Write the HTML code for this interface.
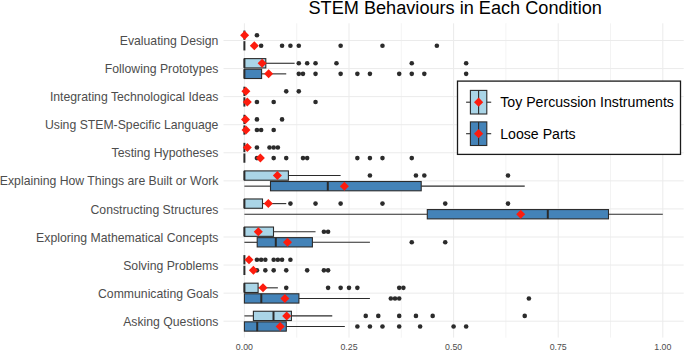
<!DOCTYPE html>
<html><head><meta charset="utf-8"><style>
html,body{margin:0;padding:0;background:#FFFFFF;}
body{width:685px;height:351px;overflow:hidden;}
svg{display:block;}
text{font-family:"Liberation Sans",sans-serif;}
.yl{font-size:12.25px;fill:#4D4D4D;}
.xl{font-size:8.8px;fill:#4D4D4D;}
.lt{font-size:14.15px;fill:#000000;}
.tt{font-size:18.15px;fill:#000000;}
</style></head><body>
<svg width="685" height="351" viewBox="0 0 685 351">
<rect width="685" height="351" fill="#FFFFFF"/>
<line x1="244.4" y1="23.3" x2="244.4" y2="337.6" stroke="#EBEBEB" stroke-width="1.0"/>
<line x1="296.7" y1="23.3" x2="296.7" y2="337.6" stroke="#EBEBEB" stroke-width="0.6"/>
<line x1="349" y1="23.3" x2="349" y2="337.6" stroke="#EBEBEB" stroke-width="1.0"/>
<line x1="401.3" y1="23.3" x2="401.3" y2="337.6" stroke="#EBEBEB" stroke-width="0.6"/>
<line x1="453.6" y1="23.3" x2="453.6" y2="337.6" stroke="#EBEBEB" stroke-width="1.0"/>
<line x1="505.9" y1="23.3" x2="505.9" y2="337.6" stroke="#EBEBEB" stroke-width="0.6"/>
<line x1="558.2" y1="23.3" x2="558.2" y2="337.6" stroke="#EBEBEB" stroke-width="1.0"/>
<line x1="610.5" y1="23.3" x2="610.5" y2="337.6" stroke="#EBEBEB" stroke-width="0.6"/>
<line x1="662.8" y1="23.3" x2="662.8" y2="337.6" stroke="#EBEBEB" stroke-width="1.0"/>
<line x1="223.5" y1="40.5" x2="683.7" y2="40.5" stroke="#EBEBEB" stroke-width="1"/>
<line x1="223.5" y1="68.57" x2="683.7" y2="68.57" stroke="#EBEBEB" stroke-width="1"/>
<line x1="223.5" y1="96.64" x2="683.7" y2="96.64" stroke="#EBEBEB" stroke-width="1"/>
<line x1="223.5" y1="124.71" x2="683.7" y2="124.71" stroke="#EBEBEB" stroke-width="1"/>
<line x1="223.5" y1="152.78" x2="683.7" y2="152.78" stroke="#EBEBEB" stroke-width="1"/>
<line x1="223.5" y1="180.85" x2="683.7" y2="180.85" stroke="#EBEBEB" stroke-width="1"/>
<line x1="223.5" y1="208.92" x2="683.7" y2="208.92" stroke="#EBEBEB" stroke-width="1"/>
<line x1="223.5" y1="236.99" x2="683.7" y2="236.99" stroke="#EBEBEB" stroke-width="1"/>
<line x1="223.5" y1="265.06" x2="683.7" y2="265.06" stroke="#EBEBEB" stroke-width="1"/>
<line x1="223.5" y1="293.13" x2="683.7" y2="293.13" stroke="#EBEBEB" stroke-width="1"/>
<line x1="223.5" y1="321.2" x2="683.7" y2="321.2" stroke="#EBEBEB" stroke-width="1"/>
<line x1="244.4" y1="30.55" x2="244.4" y2="39.85" stroke="#2B2B2B" stroke-width="2.0"/>
<circle cx="256.95" cy="35.2" r="2.3" fill="#2B2B2B"/>
<path d="M244.6 30.7L249.1 35.2L244.6 39.7L240.1 35.2Z" fill="#FD1C0E"/>
<line x1="244.4" y1="41.15" x2="244.4" y2="50.45" stroke="#2B2B2B" stroke-width="2.0"/>
<circle cx="261.14" cy="45.8" r="2.3" fill="#2B2B2B"/>
<circle cx="282.06" cy="45.8" r="2.3" fill="#2B2B2B"/>
<circle cx="290.42" cy="45.8" r="2.3" fill="#2B2B2B"/>
<circle cx="298.79" cy="45.8" r="2.3" fill="#2B2B2B"/>
<circle cx="340.63" cy="45.8" r="2.3" fill="#2B2B2B"/>
<circle cx="382.47" cy="45.8" r="2.3" fill="#2B2B2B"/>
<circle cx="436.86" cy="45.8" r="2.3" fill="#2B2B2B"/>
<path d="M254.3 41.3L258.8 45.8L254.3 50.3L249.8 45.8Z" fill="#FD1C0E"/>
<line x1="265.8" y1="63.27" x2="294.61" y2="63.27" stroke="#2B2B2B" stroke-width="1.1"/>
<rect x="244.4" y="58.62" width="21.4" height="9.3" fill="#AAD5E7" stroke="#2B2B2B" stroke-width="1.1"/>
<line x1="244.4" y1="58.62" x2="244.4" y2="67.92" stroke="#2B2B2B" stroke-width="2.0"/>
<circle cx="298.79" cy="63.27" r="2.3" fill="#2B2B2B"/>
<circle cx="307.16" cy="63.27" r="2.3" fill="#2B2B2B"/>
<circle cx="315.53" cy="63.27" r="2.3" fill="#2B2B2B"/>
<circle cx="336.45" cy="63.27" r="2.3" fill="#2B2B2B"/>
<circle cx="411.76" cy="63.27" r="2.3" fill="#2B2B2B"/>
<circle cx="466.15" cy="63.27" r="2.3" fill="#2B2B2B"/>
<path d="M262.1 58.77L266.6 63.27L262.1 67.77L257.6 63.27Z" fill="#FD1C0E"/>
<line x1="261.6" y1="73.87" x2="286.24" y2="73.87" stroke="#2B2B2B" stroke-width="1.1"/>
<rect x="244.4" y="69.22" width="17.2" height="9.3" fill="#4483B8" stroke="#2B2B2B" stroke-width="1.1"/>
<line x1="244.4" y1="69.22" x2="244.4" y2="78.52" stroke="#2B2B2B" stroke-width="2.0"/>
<circle cx="298.79" cy="73.87" r="2.3" fill="#2B2B2B"/>
<circle cx="302.98" cy="73.87" r="2.3" fill="#2B2B2B"/>
<circle cx="315.53" cy="73.87" r="2.3" fill="#2B2B2B"/>
<circle cx="340.63" cy="73.87" r="2.3" fill="#2B2B2B"/>
<circle cx="357.37" cy="73.87" r="2.3" fill="#2B2B2B"/>
<circle cx="369.92" cy="73.87" r="2.3" fill="#2B2B2B"/>
<circle cx="399.21" cy="73.87" r="2.3" fill="#2B2B2B"/>
<circle cx="411.76" cy="73.87" r="2.3" fill="#2B2B2B"/>
<circle cx="424.31" cy="73.87" r="2.3" fill="#2B2B2B"/>
<circle cx="466.15" cy="73.87" r="2.3" fill="#2B2B2B"/>
<path d="M268.6 69.37L273.1 73.87L268.6 78.37L264.1 73.87Z" fill="#FD1C0E"/>
<line x1="244.4" y1="86.69" x2="244.4" y2="95.99" stroke="#2B2B2B" stroke-width="2.0"/>
<circle cx="286.24" cy="91.34" r="2.3" fill="#2B2B2B"/>
<circle cx="298.79" cy="91.34" r="2.3" fill="#2B2B2B"/>
<path d="M245.9 86.84L250.4 91.34L245.9 95.84L241.4 91.34Z" fill="#FD1C0E"/>
<line x1="244.4" y1="97.29" x2="244.4" y2="106.59" stroke="#2B2B2B" stroke-width="2.0"/>
<circle cx="256.95" cy="101.94" r="2.3" fill="#2B2B2B"/>
<circle cx="273.69" cy="101.94" r="2.3" fill="#2B2B2B"/>
<circle cx="315.53" cy="101.94" r="2.3" fill="#2B2B2B"/>
<path d="M247.3 97.44L251.8 101.94L247.3 106.44L242.8 101.94Z" fill="#FD1C0E"/>
<line x1="244.4" y1="114.76" x2="244.4" y2="124.06" stroke="#2B2B2B" stroke-width="2.0"/>
<circle cx="256.95" cy="119.41" r="2.3" fill="#2B2B2B"/>
<circle cx="282.06" cy="119.41" r="2.3" fill="#2B2B2B"/>
<path d="M245.5 114.91L250 119.41L245.5 123.91L241 119.41Z" fill="#FD1C0E"/>
<line x1="244.4" y1="125.36" x2="244.4" y2="134.66" stroke="#2B2B2B" stroke-width="2.0"/>
<circle cx="256.95" cy="130.01" r="2.3" fill="#2B2B2B"/>
<circle cx="261.14" cy="130.01" r="2.3" fill="#2B2B2B"/>
<circle cx="273.69" cy="130.01" r="2.3" fill="#2B2B2B"/>
<path d="M246 125.51L250.5 130.01L246 134.51L241.5 130.01Z" fill="#FD1C0E"/>
<line x1="244.4" y1="142.83" x2="244.4" y2="152.13" stroke="#2B2B2B" stroke-width="2.0"/>
<circle cx="256.95" cy="147.48" r="2.3" fill="#2B2B2B"/>
<circle cx="269.5" cy="147.48" r="2.3" fill="#2B2B2B"/>
<circle cx="273.69" cy="147.48" r="2.3" fill="#2B2B2B"/>
<circle cx="277.87" cy="147.48" r="2.3" fill="#2B2B2B"/>
<path d="M247.3 142.98L251.8 147.48L247.3 151.98L242.8 147.48Z" fill="#FD1C0E"/>
<line x1="244.4" y1="153.43" x2="244.4" y2="162.73" stroke="#2B2B2B" stroke-width="2.0"/>
<circle cx="256.95" cy="158.08" r="2.3" fill="#2B2B2B"/>
<circle cx="273.69" cy="158.08" r="2.3" fill="#2B2B2B"/>
<circle cx="286.24" cy="158.08" r="2.3" fill="#2B2B2B"/>
<circle cx="302.98" cy="158.08" r="2.3" fill="#2B2B2B"/>
<circle cx="307.16" cy="158.08" r="2.3" fill="#2B2B2B"/>
<circle cx="357.37" cy="158.08" r="2.3" fill="#2B2B2B"/>
<circle cx="369.92" cy="158.08" r="2.3" fill="#2B2B2B"/>
<circle cx="382.47" cy="158.08" r="2.3" fill="#2B2B2B"/>
<circle cx="411.76" cy="158.08" r="2.3" fill="#2B2B2B"/>
<path d="M260.4 153.58L264.9 158.08L260.4 162.58L255.9 158.08Z" fill="#FD1C0E"/>
<line x1="288.4" y1="175.55" x2="340.63" y2="175.55" stroke="#2B2B2B" stroke-width="1.1"/>
<rect x="244.4" y="170.9" width="44" height="9.3" fill="#AAD5E7" stroke="#2B2B2B" stroke-width="1.1"/>
<line x1="244.4" y1="170.9" x2="244.4" y2="180.2" stroke="#2B2B2B" stroke-width="2.0"/>
<circle cx="369.92" cy="175.55" r="2.3" fill="#2B2B2B"/>
<circle cx="415.94" cy="175.55" r="2.3" fill="#2B2B2B"/>
<circle cx="424.31" cy="175.55" r="2.3" fill="#2B2B2B"/>
<circle cx="507.99" cy="175.55" r="2.3" fill="#2B2B2B"/>
<path d="M277.4 171.05L281.9 175.55L277.4 180.05L272.9 175.55Z" fill="#FD1C0E"/>
<line x1="244.4" y1="186.15" x2="270.5" y2="186.15" stroke="#2B2B2B" stroke-width="1.1"/>
<line x1="421.2" y1="186.15" x2="524.73" y2="186.15" stroke="#2B2B2B" stroke-width="1.1"/>
<rect x="270.5" y="181.5" width="150.7" height="9.3" fill="#4483B8" stroke="#2B2B2B" stroke-width="1.1"/>
<line x1="327.8" y1="181.5" x2="327.8" y2="190.8" stroke="#2B2B2B" stroke-width="2.0"/>
<path d="M344.4 181.65L348.9 186.15L344.4 190.65L339.9 186.15Z" fill="#FD1C0E"/>
<line x1="262.5" y1="203.62" x2="286.24" y2="203.62" stroke="#2B2B2B" stroke-width="1.1"/>
<rect x="244.4" y="198.97" width="18.1" height="9.3" fill="#AAD5E7" stroke="#2B2B2B" stroke-width="1.1"/>
<line x1="244.4" y1="198.97" x2="244.4" y2="208.27" stroke="#2B2B2B" stroke-width="2.0"/>
<circle cx="290.42" cy="203.62" r="2.3" fill="#2B2B2B"/>
<circle cx="315.53" cy="203.62" r="2.3" fill="#2B2B2B"/>
<circle cx="340.63" cy="203.62" r="2.3" fill="#2B2B2B"/>
<circle cx="382.47" cy="203.62" r="2.3" fill="#2B2B2B"/>
<circle cx="445.23" cy="203.62" r="2.3" fill="#2B2B2B"/>
<circle cx="507.99" cy="203.62" r="2.3" fill="#2B2B2B"/>
<path d="M268.3 199.12L272.8 203.62L268.3 208.12L263.8 203.62Z" fill="#FD1C0E"/>
<line x1="244.4" y1="214.22" x2="427.3" y2="214.22" stroke="#2B2B2B" stroke-width="1.1"/>
<line x1="608.5" y1="214.22" x2="662.8" y2="214.22" stroke="#2B2B2B" stroke-width="1.1"/>
<rect x="427.3" y="209.57" width="181.2" height="9.3" fill="#4483B8" stroke="#2B2B2B" stroke-width="1.1"/>
<line x1="547.8" y1="209.57" x2="547.8" y2="218.87" stroke="#2B2B2B" stroke-width="2.0"/>
<path d="M520.7 209.72L525.2 214.22L520.7 218.72L516.2 214.22Z" fill="#FD1C0E"/>
<line x1="273.5" y1="231.69" x2="315.53" y2="231.69" stroke="#2B2B2B" stroke-width="1.1"/>
<rect x="244.4" y="227.04" width="29.1" height="9.3" fill="#AAD5E7" stroke="#2B2B2B" stroke-width="1.1"/>
<line x1="244.4" y1="227.04" x2="244.4" y2="236.34" stroke="#2B2B2B" stroke-width="2.0"/>
<circle cx="323.9" cy="231.69" r="2.3" fill="#2B2B2B"/>
<circle cx="328.08" cy="231.69" r="2.3" fill="#2B2B2B"/>
<path d="M258.3 227.19L262.8 231.69L258.3 236.19L253.8 231.69Z" fill="#FD1C0E"/>
<line x1="244.4" y1="242.29" x2="257.2" y2="242.29" stroke="#2B2B2B" stroke-width="1.1"/>
<line x1="312.4" y1="242.29" x2="369.92" y2="242.29" stroke="#2B2B2B" stroke-width="1.1"/>
<rect x="257.2" y="237.64" width="55.2" height="9.3" fill="#4483B8" stroke="#2B2B2B" stroke-width="1.1"/>
<line x1="275.8" y1="237.64" x2="275.8" y2="246.94" stroke="#2B2B2B" stroke-width="2.0"/>
<circle cx="411.76" cy="242.29" r="2.3" fill="#2B2B2B"/>
<circle cx="445.23" cy="242.29" r="2.3" fill="#2B2B2B"/>
<path d="M287.5 237.79L292 242.29L287.5 246.79L283 242.29Z" fill="#FD1C0E"/>
<line x1="244.4" y1="255.11" x2="244.4" y2="264.41" stroke="#2B2B2B" stroke-width="2.0"/>
<circle cx="256.95" cy="259.76" r="2.3" fill="#2B2B2B"/>
<circle cx="261.14" cy="259.76" r="2.3" fill="#2B2B2B"/>
<circle cx="265.32" cy="259.76" r="2.3" fill="#2B2B2B"/>
<circle cx="273.69" cy="259.76" r="2.3" fill="#2B2B2B"/>
<circle cx="277.87" cy="259.76" r="2.3" fill="#2B2B2B"/>
<circle cx="282.06" cy="259.76" r="2.3" fill="#2B2B2B"/>
<circle cx="290.42" cy="259.76" r="2.3" fill="#2B2B2B"/>
<path d="M249 255.26L253.5 259.76L249 264.26L244.5 259.76Z" fill="#FD1C0E"/>
<line x1="244.4" y1="265.71" x2="244.4" y2="275.01" stroke="#2B2B2B" stroke-width="2.0"/>
<circle cx="256.95" cy="270.36" r="2.3" fill="#2B2B2B"/>
<circle cx="265.32" cy="270.36" r="2.3" fill="#2B2B2B"/>
<circle cx="273.69" cy="270.36" r="2.3" fill="#2B2B2B"/>
<circle cx="286.24" cy="270.36" r="2.3" fill="#2B2B2B"/>
<circle cx="307.16" cy="270.36" r="2.3" fill="#2B2B2B"/>
<circle cx="323.9" cy="270.36" r="2.3" fill="#2B2B2B"/>
<circle cx="328.08" cy="270.36" r="2.3" fill="#2B2B2B"/>
<path d="M253.4 265.86L257.9 270.36L253.4 274.86L248.9 270.36Z" fill="#FD1C0E"/>
<line x1="258.1" y1="287.83" x2="277.87" y2="287.83" stroke="#2B2B2B" stroke-width="1.1"/>
<rect x="244.4" y="283.18" width="13.7" height="9.3" fill="#AAD5E7" stroke="#2B2B2B" stroke-width="1.1"/>
<line x1="244.4" y1="283.18" x2="244.4" y2="292.48" stroke="#2B2B2B" stroke-width="2.0"/>
<circle cx="286.24" cy="287.83" r="2.3" fill="#2B2B2B"/>
<circle cx="328.08" cy="287.83" r="2.3" fill="#2B2B2B"/>
<circle cx="340.63" cy="287.83" r="2.3" fill="#2B2B2B"/>
<circle cx="349" cy="287.83" r="2.3" fill="#2B2B2B"/>
<circle cx="357.37" cy="287.83" r="2.3" fill="#2B2B2B"/>
<circle cx="399.21" cy="287.83" r="2.3" fill="#2B2B2B"/>
<circle cx="403.39" cy="287.83" r="2.3" fill="#2B2B2B"/>
<path d="M263 283.33L267.5 287.83L263 292.33L258.5 287.83Z" fill="#FD1C0E"/>
<line x1="298.9" y1="298.43" x2="369.92" y2="298.43" stroke="#2B2B2B" stroke-width="1.1"/>
<rect x="244.4" y="293.78" width="54.5" height="9.3" fill="#4483B8" stroke="#2B2B2B" stroke-width="1.1"/>
<line x1="261.3" y1="293.78" x2="261.3" y2="303.08" stroke="#2B2B2B" stroke-width="2.0"/>
<circle cx="390.84" cy="298.43" r="2.3" fill="#2B2B2B"/>
<circle cx="395.02" cy="298.43" r="2.3" fill="#2B2B2B"/>
<circle cx="399.21" cy="298.43" r="2.3" fill="#2B2B2B"/>
<circle cx="528.91" cy="298.43" r="2.3" fill="#2B2B2B"/>
<path d="M284.9 293.93L289.4 298.43L284.9 302.93L280.4 298.43Z" fill="#FD1C0E"/>
<line x1="244.4" y1="315.9" x2="253.4" y2="315.9" stroke="#2B2B2B" stroke-width="1.1"/>
<line x1="291.4" y1="315.9" x2="332.26" y2="315.9" stroke="#2B2B2B" stroke-width="1.1"/>
<rect x="253.4" y="311.25" width="38" height="9.3" fill="#AAD5E7" stroke="#2B2B2B" stroke-width="1.1"/>
<line x1="273.5" y1="311.25" x2="273.5" y2="320.55" stroke="#2B2B2B" stroke-width="2.0"/>
<circle cx="365.74" cy="315.9" r="2.3" fill="#2B2B2B"/>
<circle cx="378.29" cy="315.9" r="2.3" fill="#2B2B2B"/>
<circle cx="399.21" cy="315.9" r="2.3" fill="#2B2B2B"/>
<circle cx="415.94" cy="315.9" r="2.3" fill="#2B2B2B"/>
<circle cx="432.68" cy="315.9" r="2.3" fill="#2B2B2B"/>
<circle cx="524.73" cy="315.9" r="2.3" fill="#2B2B2B"/>
<path d="M286.7 311.4L291.2 315.9L286.7 320.4L282.2 315.9Z" fill="#FD1C0E"/>
<line x1="286.3" y1="326.5" x2="344.82" y2="326.5" stroke="#2B2B2B" stroke-width="1.1"/>
<rect x="244.4" y="321.85" width="41.9" height="9.3" fill="#4483B8" stroke="#2B2B2B" stroke-width="1.1"/>
<line x1="257.2" y1="321.85" x2="257.2" y2="331.15" stroke="#2B2B2B" stroke-width="2.0"/>
<circle cx="357.37" cy="326.5" r="2.3" fill="#2B2B2B"/>
<circle cx="369.92" cy="326.5" r="2.3" fill="#2B2B2B"/>
<circle cx="382.47" cy="326.5" r="2.3" fill="#2B2B2B"/>
<circle cx="399.21" cy="326.5" r="2.3" fill="#2B2B2B"/>
<circle cx="420.13" cy="326.5" r="2.3" fill="#2B2B2B"/>
<circle cx="453.6" cy="326.5" r="2.3" fill="#2B2B2B"/>
<circle cx="466.15" cy="326.5" r="2.3" fill="#2B2B2B"/>
<path d="M280.2 322L284.7 326.5L280.2 331L275.7 326.5Z" fill="#FD1C0E"/>
<text transform="translate(218.4 45.1) scale(1 1.045)" text-anchor="end" class="yl">Evaluating Design</text>
<text transform="translate(218.4 73.17) scale(1 1.045)" text-anchor="end" class="yl">Following Prototypes</text>
<text transform="translate(218.4 101.24) scale(1 1.045)" text-anchor="end" class="yl">Integrating Technological Ideas</text>
<text transform="translate(218.4 129.31) scale(1 1.045)" text-anchor="end" class="yl">Using STEM-Specific Language</text>
<text transform="translate(218.4 157.38) scale(1 1.045)" text-anchor="end" class="yl">Testing Hypotheses</text>
<text transform="translate(218.4 185.45) scale(1 1.045)" text-anchor="end" class="yl">Explaining How Things are Built or Work</text>
<text transform="translate(218.4 213.52) scale(1 1.045)" text-anchor="end" class="yl">Constructing Structures</text>
<text transform="translate(218.4 241.59) scale(1 1.045)" text-anchor="end" class="yl">Exploring Mathematical Concepts</text>
<text transform="translate(218.4 269.66) scale(1 1.045)" text-anchor="end" class="yl">Solving Problems</text>
<text transform="translate(218.4 297.73) scale(1 1.045)" text-anchor="end" class="yl">Communicating Goals</text>
<text transform="translate(218.4 325.8) scale(1 1.045)" text-anchor="end" class="yl">Asking Questions</text>
<text transform="translate(244.4 349.8) scale(1 1.12)" text-anchor="middle" class="xl">0.00</text>
<text transform="translate(349 349.8) scale(1 1.12)" text-anchor="middle" class="xl">0.25</text>
<text transform="translate(453.6 349.8) scale(1 1.12)" text-anchor="middle" class="xl">0.50</text>
<text transform="translate(558.2 349.8) scale(1 1.12)" text-anchor="middle" class="xl">0.75</text>
<text transform="translate(662.8 349.8) scale(1 1.12)" text-anchor="middle" class="xl">1.00</text>
<rect x="457.5" y="81.1" width="223" height="73.3" fill="#FFFFFF" stroke="#1A1A1A" stroke-width="1.3"/>
<line x1="466.1" y1="102.2" x2="491.2" y2="102.2" stroke="#2B2B2B" stroke-width="1.1"/>
<rect x="470.4" y="90.4" width="16.4" height="23.6" fill="#AAD5E7" stroke="#2B2B2B" stroke-width="1.1"/>
<line x1="478.6" y1="90.4" x2="478.6" y2="114" stroke="#2B2B2B" stroke-width="1.1"/>
<path d="M478.6 97.6L483.2 102.2L478.6 106.8L474 102.2Z" fill="#FD1C0E"/>
<line x1="466.1" y1="133.7" x2="491.2" y2="133.7" stroke="#2B2B2B" stroke-width="1.1"/>
<rect x="470.4" y="121.9" width="16.4" height="23.6" fill="#4483B8" stroke="#2B2B2B" stroke-width="1.1"/>
<line x1="478.6" y1="121.9" x2="478.6" y2="145.5" stroke="#2B2B2B" stroke-width="1.1"/>
<path d="M478.6 129.1L483.2 133.7L478.6 138.3L474 133.7Z" fill="#FD1C0E"/>
<text transform="translate(500.2 107.3) scale(1 1.08)" class="lt">Toy Percussion Instruments</text>
<text transform="translate(500.2 138.5) scale(1 1.08)" class="lt">Loose Parts</text>
<text transform="translate(455.2 14.0) scale(1 1.06)" text-anchor="middle" class="tt">STEM Behaviours in Each Condition</text>
</svg>
</body></html>
